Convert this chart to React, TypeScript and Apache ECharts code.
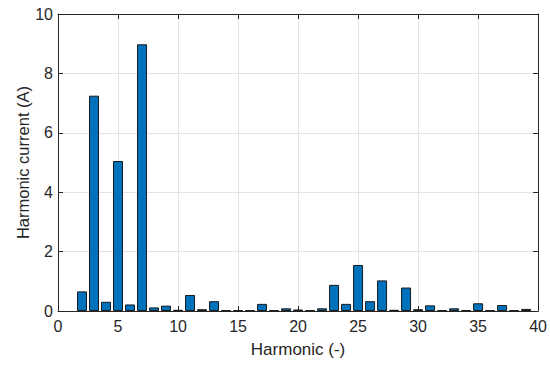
import React, { useEffect, useRef } from "react";
import * as echarts from "echarts";

const harmonics: number[] = [2, 3, 4, 5, 6, 7, 8, 9, 10, 11, 12, 13, 14, 15, 16, 17, 18, 19, 20, 21, 22, 23, 24, 25, 26, 27, 28, 29, 30, 31, 32, 33, 34, 35, 36, 37, 38, 39];
const currents: number[] = [0.66, 7.25, 0.31, 5.05, 0.22, 8.98, 0.12, 0.18, 0.04, 0.54, 0.06, 0.33, 0.02, 0.02, 0.02, 0.24, 0.02, 0.09, 0.05, 0.02, 0.09, 0.88, 0.24, 1.55, 0.33, 1.03, 0.04, 0.79, 0.06, 0.19, 0.03, 0.09, 0.03, 0.26, 0.02, 0.2, 0.02, 0.07];
const xTicks = { min: 0, max: 40, interval: 5 };
const yTicks = { min: 0, max: 10, interval: 2 };

export default function App() {
  const ref = useRef<HTMLDivElement>(null);
  useEffect(() => {
    if (!ref.current) return;
    const chart = echarts.init(ref.current, undefined, { renderer: "svg" });
    const font = "Liberation Sans, Arial, Helvetica, sans-serif";
    const axisColor = "#262626";
    const data = harmonics.map((h, i) => [h, currents[i]]);
    chart.setOption({
      animation: false,
      backgroundColor: "#ffffff",
      grid: { left: 58, right: 9, top: 14, bottom: 54, containLabel: false },
      xAxis: [
        {
          type: "value",
          min: xTicks.min,
          max: xTicks.max,
          interval: xTicks.interval,
          name: "Harmonic (-)",
          nameLocation: "middle",
          nameGap: 30,
          nameTextStyle: { color: axisColor, fontSize: 17, fontFamily: font },
          axisLine: { show: true, onZero: false, lineStyle: { color: axisColor, width: 1 } },
          axisTick: { show: true, inside: true, length: 5, lineStyle: { color: axisColor } },
          axisLabel: { color: axisColor, fontSize: 16, fontFamily: font, margin: 7 },
          splitLine: { show: true, lineStyle: { color: "#e3e3e3", width: 1 } },
        },
        {
          type: "value",
          position: "top",
          min: xTicks.min,
          max: xTicks.max,
          interval: xTicks.interval,
          axisLine: { show: true, onZero: false, lineStyle: { color: axisColor, width: 1 } },
          axisTick: { show: true, inside: true, length: 5, lineStyle: { color: axisColor } },
          axisLabel: { show: false },
          splitLine: { show: false },
        },
      ],
      yAxis: [
        {
          type: "value",
          min: yTicks.min,
          max: yTicks.max,
          interval: yTicks.interval,
          name: "Harmonic current (A)",
          nameLocation: "middle",
          nameGap: 27,
          nameMoveOverlap: false,
          nameTextStyle: { color: axisColor, fontSize: 16.5, fontFamily: font },
          axisLine: { show: true, onZero: false, lineStyle: { color: axisColor, width: 1 } },
          axisTick: { show: true, inside: true, length: 5, lineStyle: { color: axisColor } },
          axisLabel: { color: axisColor, fontSize: 16, fontFamily: font, margin: 5 },
          splitLine: { show: true, lineStyle: { color: "#e3e3e3", width: 1 } },
        },
        {
          type: "value",
          position: "right",
          min: yTicks.min,
          max: yTicks.max,
          interval: yTicks.interval,
          axisLine: { show: true, onZero: false, lineStyle: { color: axisColor, width: 1 } },
          axisTick: { show: true, inside: true, length: 5, lineStyle: { color: axisColor } },
          axisLabel: { show: false },
          splitLine: { show: false },
        },
      ],
      series: [
        {
          type: "bar",
          xAxisIndex: 0,
          yAxisIndex: 0,
          data,
          barWidth: 10,
          itemStyle: { color: "#0072BD", borderColor: "#1a1a1a", borderWidth: 1 },
        },
      ],
    });
    return () => chart.dispose();
  }, []);
  return (
    <div
      ref={ref}
      style={{ position: "absolute", left: 0, top: 0, width: 550, height: 365 }}
    />
  );
}
